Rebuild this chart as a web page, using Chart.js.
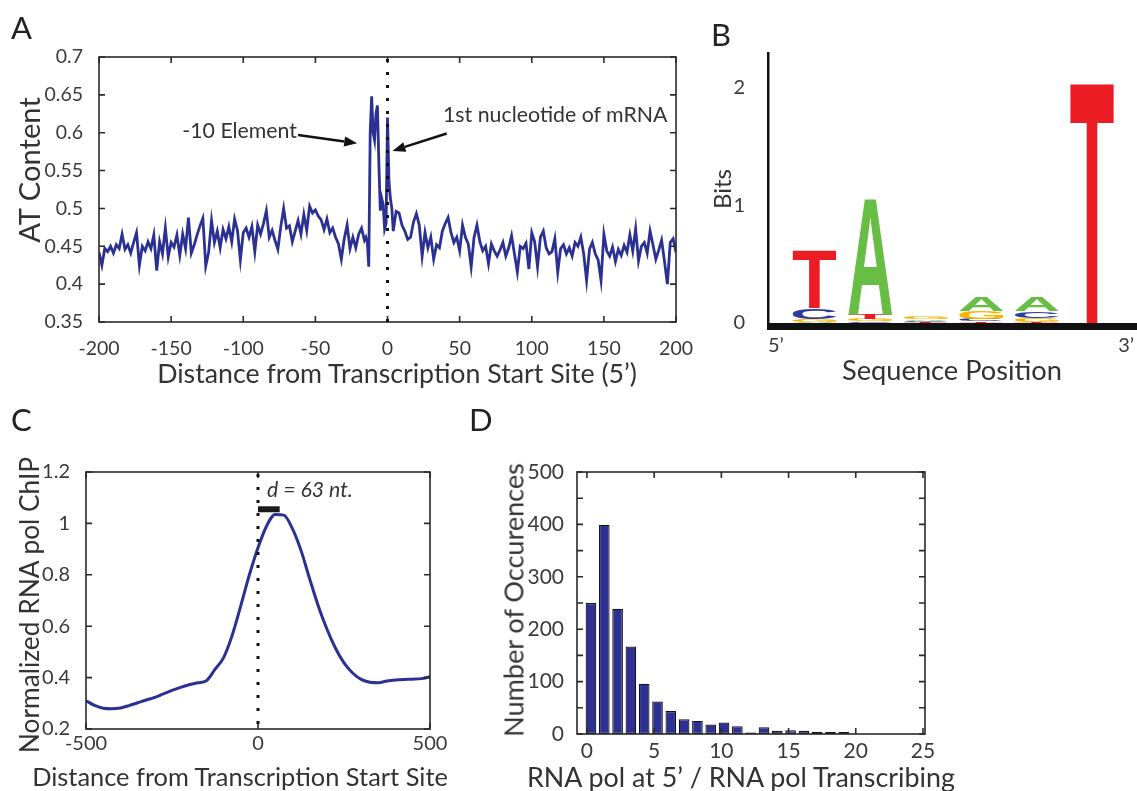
<!DOCTYPE html>
<html>
<head>
<meta charset="utf-8">
<script src="https://cdn.jsdelivr.net/npm/chart.js@4.4.1/dist/chart.umd.min.js"></script>
<style>
  html, body { margin: 0; padding: 0; background: #fff; overflow: hidden; }
  body { width: 1137px; height: 791px; position: relative; font-family: Lato, "Open Sans", sans-serif; color: #333; }
  canvas { position: absolute; }
  .t { position: absolute; white-space: nowrap; line-height: 1; }
  .c { transform: translate(-50%, -50%); }
  .v { transform: translate(-50%, -50%) rotate(-90deg); }
  .panel { font-size: 31px; color: #222; }
  .ax { font-size: 24px; color: #333; }
  .note { font-size: 20px; color: #333; }
</style>
</head>
<body>
<canvas id="chartA" width="700" height="395" style="left:0;top:0"></canvas>
<canvas id="chartB" width="437" height="395" style="left:700px;top:0"></canvas>
<canvas id="chartC" width="470" height="391" style="left:0;top:400px"></canvas>
<canvas id="chartD" width="480" height="391" style="left:480px;top:400px"></canvas>

<div class="t panel" style="left:11px;top:12px">A</div>
<div class="t panel" style="left:711px;top:19px">B</div>
<div class="t panel" style="left:11px;top:404px">C</div>
<div class="t panel" style="left:469px;top:404px">D</div>

<div class="t ax v" data-w="146" style="left:29px;top:170px">AT Content</div>
<div class="t ax c" data-w="480" style="left:397px;top:373px">Distance from Transcription Start Site (5’)</div>
<div class="t note" data-w="115" style="left:297px;top:131px;transform:translate(-100%,-50%)">-10 Element</div>
<div class="t note" data-w="225" style="left:443px;top:115px;transform:translateY(-50%)">1st nucleotide of mRNA</div>

<div class="t ax v" data-w="40" style="left:722px;top:189px">Bits</div>
<div class="t ax c" data-w="220" style="left:952px;top:370px">Sequence Position</div>

<div class="t ax v" data-w="296" style="left:29px;top:605px">Normalized RNA pol ChIP</div>
<div class="t ax c" data-w="416" style="left:240px;top:777px">Distance from Transcription Start Site</div>
<div class="t note" data-w="86" style="left:267px;top:490px;transform:translateY(-50%);font-style:italic">d = 63 nt.</div>

<div class="t ax v" data-w="274" style="left:513px;top:600px">Number of Occurences</div>
<div class="t ax c" data-w="428" style="left:741px;top:777px">RNA pol at 5’ / RNA pol Transcribing</div>

<script>
// ---------------- colours / fonts ----------------
const BLUE = '#2b3192';
const TXT = '#3a3a3a';
const FONT = 'Lato';

// ---------------- panel A : AT content around the TSS ----------------
const aPos = [
  -200,-198,-196,-194,-192,-190,-188,-186,-184,-182,-180,-178,-176,-174,-172,-170,-168,-166,-164,-162,
  -160,-158,-156,-154,-152,-150,-148,-146,-144,-142,-140,-138,-136,-134,-132,-130,-128,-126,-124,-122,
  -120,-118,-116,-114,-112,-110,-108,-106,-104,-102,-100,-98,-96,-94,-92,-90,-88,-86,-84,-82,
  -80,-78,-76,-74,-72,-70,-68,-66,-64,-62,-60,-58,-56,-54,-52,-50,-48,-46,-44,-42,
  -40,-38,-36,-34,-32,-30,-28,-26,-24,-22,-20,-18,-16,-15,-14,-13,-12,-11,-10,-9,
  -8,-7,-6,-5,-4,-3,-2,-1,0,1,2,3,4,5,6,8,10,12,14,16,
  18,20,22,24,26,28,30,32,34,36,38,40,42,44,46,48,50,52,54,56,
  58,60,62,64,66,68,70,72,74,76,78,80,82,84,86,88,90,92,94,96,
  98,100,102,104,106,108,110,112,114,116,118,120,122,124,126,128,130,132,134,136,
  138,140,142,144,146,148,150,152,154,156,158,160,162,164,166,168,170,172,174,176,
  178,180,182,184,186,188,190,192,194,196,198,200
];
const aVal = [
  0.442,0.425,0.447,0.443,0.450,0.441,0.452,0.447,0.466,0.446,0.452,0.441,0.455,0.468,0.425,0.450,0.444,0.456,0.447,0.465,
  0.418,0.456,0.440,0.474,0.436,0.455,0.449,0.465,0.438,0.466,0.447,0.488,0.441,0.452,0.465,0.477,0.487,0.424,0.442,0.484,
  0.455,0.470,0.448,0.472,0.460,0.476,0.456,0.486,0.471,0.432,0.468,0.474,0.462,0.476,0.443,0.478,0.466,0.480,0.497,0.462,
  0.471,0.458,0.446,0.476,0.500,0.474,0.477,0.456,0.470,0.484,0.466,0.492,0.471,0.503,0.494,0.498,0.490,0.485,0.472,0.486,
  0.468,0.474,0.462,0.453,0.433,0.460,0.478,0.447,0.462,0.448,0.466,0.474,0.458,0.462,0.455,0.423,0.600,0.648,0.600,0.590,
  0.625,0.636,0.560,0.497,0.513,0.505,0.473,0.480,0.620,0.536,0.513,0.500,0.470,0.484,0.496,0.494,0.478,0.470,0.459,0.462,
  0.482,0.493,0.478,0.437,0.468,0.448,0.462,0.433,0.452,0.448,0.470,0.480,0.488,0.468,0.455,0.462,0.444,0.478,0.462,0.453,
  0.423,0.462,0.478,0.456,0.444,0.450,0.427,0.453,0.444,0.437,0.445,0.455,0.437,0.448,0.464,0.440,0.416,0.450,0.447,0.454,
  0.420,0.468,0.456,0.423,0.462,0.470,0.448,0.440,0.443,0.460,0.416,0.447,0.452,0.440,0.448,0.437,0.455,0.450,0.462,0.440,
  0.405,0.446,0.455,0.440,0.432,0.405,0.466,0.444,0.437,0.449,0.430,0.446,0.438,0.451,0.442,0.465,0.444,0.473,0.431,0.450,
  0.455,0.441,0.470,0.452,0.433,0.445,0.458,0.430,0.400,0.455,0.460,0.442
];
const aTicksX = [-200, -150, -100, -50, 0, 50, 100, 150, 200];
const aTicksY = [0.35, 0.4, 0.45, 0.5, 0.55, 0.6, 0.65, 0.7];
// arrows: [fromX, fromY, toX, toY] in data units
const aArrow10 = [-62, 0.597, -21, 0.586];
const aArrowMrna = [41, 0.599, 3.4, 0.576];

// ---------------- panel B : sequence logo ----------------
const logoPos = [1, 2, 3, 4, 5, 6];
// stacked from bottom (smallest) to top (largest)
const logoLetters1 = ['A', 'C', 'T', 'T', 'T', 'A'];
const logoBits1    = [0.01, 0.015, 0.008, 0.015, 0.012, 0];
const logoLetters2 = ['G', 'G', 'C', 'C', 'G', 'C'];
const logoBits2    = [0.025, 0.02, 0.01, 0.02, 0.03, 0];
const logoLetters3 = ['C', 'T', 'A', 'G', 'C', 'G'];
const logoBits3    = [0.09, 0.045, 0.015, 0.065, 0.06, 0];
const logoLetters4 = ['T', 'A', 'G', 'A', 'A', 'T'];
const logoBits4    = [0.5, 0.99, 0.018, 0.12, 0.12, 2.06];
const logoTicksY = [0, 1, 2];
const logoColors = { A: '#68bd45', C: '#2e3a9c', G: '#f7b500', T: '#ec1c24' };

// ---------------- panel C : RNA pol ChIP profile ----------------
const cPos = [
  -500,-475,-450,-425,-400,-375,-350,-325,-300,-275,-250,-225,-200,-175,-150,-125,-100,-75,-50,-25,
  0,25,50,75,100,125,150,175,200,225,250,275,300,325,350,375,400,425,450,475,500
];
const cVal = [
  0.310,0.292,0.281,0.279,0.282,0.291,0.302,0.313,0.323,0.337,0.350,0.362,0.372,0.380,0.388,0.432,0.478,0.565,0.680,0.800,
  0.905,0.990,1.035,1.032,0.980,0.895,0.785,0.680,0.590,0.515,0.457,0.418,0.393,0.382,0.380,0.387,0.391,0.393,0.394,0.396,0.403
];
const cTicksX = [-500, 0, 500];
const cTicksY = [0.2, 0.4, 0.6, 0.8, 1, 1.2];
const cPeakBar = [0, 63, 1.055];   // from x, to x, at y

// ---------------- panel D : histogram ----------------
const dBins = [0.3, 1.29, 2.28, 3.27, 4.26, 5.25, 6.24, 7.23, 8.22, 9.21,
               10.2, 11.19, 12.18, 13.17, 14.16, 15.15, 16.14, 17.13, 18.12, 19.11];
const dCounts = [250, 399, 239, 167, 96, 62, 44, 28, 25, 18,
                 22, 15, 3, 13, 6, 7, 6, 4, 4, 4];
const dTicksX = [0, 5, 10, 15, 20, 25];
const dTicksY = [0, 100, 200, 300, 400, 500];
const dMinorY = [0, 50, 100, 150, 200, 250, 300, 350, 400, 450, 500];

// ---------------- helpers ----------------
// size the free text to the width it has in the figure
document.querySelectorAll('[data-w]').forEach(el => {
  const fs = parseFloat(getComputedStyle(el).fontSize);
  el.style.fontSize = (fs * Number(el.dataset.w) / el.offsetWidth).toFixed(2) + 'px';
});

function fixedSize(px) {
  return scale => { if (scale.isHorizontal()) scale.height = px; else scale.width = px; };
}
function useTicks(values) {
  return scale => { scale.ticks = values.map(v => ({ value: v })); };
}
function tickStyle(size, pad) {
  return { color: TXT, font: { family: FONT, size: size }, padding: pad, autoSkip: false, maxRotation: 0, callback: v => String(v) };
}
const baseOptions = {
  responsive: false,
  animation: false,
  devicePixelRatio: 1,
  events: []
};

// box with MATLAB style inward ticks
const framePlugin = {
  id: 'frame',
  afterDatasetsDraw(chart, args, opts) {
    const { ctx, chartArea: a, scales } = chart;
    const len = opts.len || 6;
    ctx.save();
    ctx.strokeStyle = '#2a2a2a';
    ctx.lineWidth = 1.6;
    ctx.beginPath();
    (opts.x || []).forEach(v => {
      const p = scales.x.getPixelForValue(v);
      ctx.moveTo(p, a.bottom); ctx.lineTo(p, a.bottom - len);
      ctx.moveTo(p, a.top); ctx.lineTo(p, a.top + len);
    });
    (opts.y || []).forEach(v => {
      const p = scales.y.getPixelForValue(v);
      ctx.moveTo(a.left, p); ctx.lineTo(a.left + len, p);
      ctx.moveTo(a.right, p); ctx.lineTo(a.right - len, p);
    });
    ctx.stroke();
    ctx.strokeRect(a.left, a.top, a.right - a.left, a.bottom - a.top);
    ctx.restore();
  }
};

function dottedZero(chart) {
  const { ctx, chartArea: a, scales } = chart;
  const x0 = scales.x.getPixelForValue(0);
  ctx.save();
  ctx.strokeStyle = '#111';
  ctx.lineWidth = 3;
  ctx.setLineDash([3, 10]);
  ctx.beginPath();
  ctx.moveTo(x0, a.top + 2);
  ctx.lineTo(x0, a.bottom);
  ctx.stroke();
  ctx.restore();
}

function drawArrow(chart, arr) {
  const { ctx, scales: { x, y } } = chart;
  const x1 = x.getPixelForValue(arr[0]), y1 = y.getPixelForValue(arr[1]);
  const x2 = x.getPixelForValue(arr[2]), y2 = y.getPixelForValue(arr[3]);
  const ang = Math.atan2(y2 - y1, x2 - x1);
  const hl = 13, hw = 5;
  ctx.save();
  ctx.strokeStyle = '#111';
  ctx.fillStyle = '#111';
  ctx.lineWidth = 2.5;
  ctx.beginPath();
  ctx.moveTo(x1, y1);
  ctx.lineTo(x2 - hl * Math.cos(ang), y2 - hl * Math.sin(ang));
  ctx.stroke();
  ctx.beginPath();
  ctx.moveTo(x2, y2);
  ctx.lineTo(x2 - hl * Math.cos(ang) + hw * Math.sin(ang), y2 - hl * Math.sin(ang) - hw * Math.cos(ang));
  ctx.lineTo(x2 - hl * Math.cos(ang) - hw * Math.sin(ang), y2 - hl * Math.sin(ang) + hw * Math.cos(ang));
  ctx.closePath();
  ctx.fill();
  ctx.restore();
}

// stretch one glyph into a box (used for the logo)
function drawGlyph(ctx, ch, color, left, top, w, h) {
  ctx.save();
  ctx.font = 'bold 100px "Liberation Sans"';
  const m = ctx.measureText(ch);
  const gw = m.actualBoundingBoxLeft + m.actualBoundingBoxRight;
  const gh = m.actualBoundingBoxAscent + m.actualBoundingBoxDescent;
  ctx.translate(left, top);
  ctx.scale(w / gw, h / gh);
  ctx.fillStyle = color;
  ctx.textAlign = 'left';
  ctx.textBaseline = 'alphabetic';
  ctx.fillText(ch, m.actualBoundingBoxLeft, m.actualBoundingBoxAscent);
  ctx.restore();
}

// ---------------- chart A ----------------
new Chart(document.getElementById('chartA'), {
  type: 'line',
  data: {
    datasets: [{
      data: aPos.map((x, i) => ({ x, y: aVal[i] })),
      borderColor: BLUE,
      borderWidth: 2.8,
      pointRadius: 0,
      tension: 0
    }]
  },
  options: {
    ...baseOptions,
    layout: { padding: { top: 57, right: 13, left: 0, bottom: 0 } },
    plugins: { legend: { display: false }, tooltip: { enabled: false }, frame: { x: aTicksX, y: aTicksY } },
    scales: {
      x: {
        type: 'linear', min: -200, max: 200,
        afterBuildTicks: useTicks(aTicksX), afterFit: fixedSize(73),
        grid: { display: false }, border: { display: false }, ticks: tickStyle(19.5, 7)
      },
      y: {
        min: 0.35, max: 0.7,
        afterBuildTicks: useTicks(aTicksY), afterFit: fixedSize(99),
        grid: { display: false }, border: { display: false }, ticks: tickStyle(19.5, 8)
      }
    }
  },
  plugins: [framePlugin, {
    id: 'aMarks',
    afterDatasetsDraw(chart) {
      dottedZero(chart);
      drawArrow(chart, aArrow10);
      drawArrow(chart, aArrowMrna);
    }
  }]
});

// ---------------- chart B ----------------
const logoLayers = [
  [logoLetters1, logoBits1], [logoLetters2, logoBits2],
  [logoLetters3, logoBits3], [logoLetters4, logoBits4]
];
new Chart(document.getElementById('chartB'), {
  type: 'bar',
  data: {
    datasets: logoLayers.map(([letters, bits]) => ({
      data: logoPos.map((x, i) => ({ x, y: bits[i] })),
      letters: letters,
      backgroundColor: 'rgba(0,0,0,0)',
      borderWidth: 0,
      barThickness: 44
    }))
  },
  options: {
    ...baseOptions,
    layout: { padding: { top: 52, right: 1, left: 0, bottom: 0 } },
    plugins: { legend: { display: false }, tooltip: { enabled: false } },
    scales: {
      x: {
        type: 'linear', min: 0.16, max: 6.75, stacked: true, offset: false,
        afterBuildTicks: scale => { scale.ticks = [{ value: scale.min }, { value: scale.max }]; },
        afterFit: fixedSize(72),
        grid: { display: false, offset: false }, border: { display: false },
        ticks: { ...tickStyle(20, 3), align: 'inner', callback: (v, i) => (i === 0 ? '5’' : '3’') }
      },
      y: {
        min: 0, max: 2.3, stacked: true,
        afterBuildTicks: useTicks(logoTicksY), afterFit: fixedSize(68),
        grid: { display: false }, border: { display: false }, ticks: tickStyle(20, 15)
      }
    }
  },
  plugins: [{
    id: 'logoDraw',
    afterDatasetsDraw(chart) {
      const { ctx, chartArea: a } = chart;
      chart.data.datasets.forEach((ds, di) => {
        chart.getDatasetMeta(di).data.forEach((el, i) => {
          const h = el.base - el.y;
          if (h < 0.6) return;
          const ch = ds.letters[i];
          drawGlyph(ctx, ch, logoColors[ch], el.x - el.width / 2, el.y, el.width, h);
        });
      });
      ctx.save();
      ctx.fillStyle = '#111';
      ctx.fillRect(a.left - 1, a.top, 2.5, a.bottom - a.top);
      ctx.fillRect(a.left - 1, a.bottom, a.right - a.left + 6, 7);
      ctx.restore();
    }
  }]
});

// ---------------- chart C ----------------
new Chart(document.getElementById('chartC'), {
  type: 'line',
  data: {
    datasets: [{
      data: cPos.map((x, i) => ({ x, y: cVal[i] })),
      borderColor: BLUE,
      borderWidth: 3,
      pointRadius: 0,
      tension: 0.4,
      cubicInterpolationMode: 'monotone'
    }]
  },
  options: {
    ...baseOptions,
    layout: { padding: { top: 72, right: 40, left: 0, bottom: 0 } },
    plugins: { legend: { display: false }, tooltip: { enabled: false }, frame: { x: cTicksX, y: cTicksY } },
    scales: {
      x: {
        type: 'linear', min: -500, max: 500,
        afterBuildTicks: useTicks(cTicksX), afterFit: fixedSize(62),
        grid: { display: false }, border: { display: false }, ticks: tickStyle(20, -5)
      },
      y: {
        min: 0.2, max: 1.2,
        afterBuildTicks: useTicks(cTicksY), afterFit: fixedSize(86),
        grid: { display: false }, border: { display: false }, ticks: tickStyle(20, 8)
      }
    }
  },
  plugins: [framePlugin, {
    id: 'cMarks',
    afterDatasetsDraw(chart) {
      dottedZero(chart);
      const { ctx, scales: { x, y } } = chart;
      ctx.save();
      ctx.strokeStyle = '#1a1a1a';
      ctx.lineWidth = 6;
      ctx.beginPath();
      ctx.moveTo(x.getPixelForValue(cPeakBar[0]), y.getPixelForValue(cPeakBar[2]));
      ctx.lineTo(x.getPixelForValue(cPeakBar[1]), y.getPixelForValue(cPeakBar[2]));
      ctx.stroke();
      ctx.restore();
    }
  }]
});

// ---------------- chart D ----------------
new Chart(document.getElementById('chartD'), {
  type: 'bar',
  data: {
    datasets: [{
      data: dBins.map((x, i) => ({ x, y: dCounts[i] })),
      backgroundColor: '#2e3192',
      borderColor: '#151515',
      borderWidth: 1.2,
      borderSkipped: false,
      barPercentage: 1,
      categoryPercentage: 0.8
    }]
  },
  options: {
    ...baseOptions,
    layout: { padding: { top: 72, right: 35, left: 0, bottom: 0 } },
    plugins: { legend: { display: false }, tooltip: { enabled: false }, frame: { x: dTicksX, y: dMinorY } },
    scales: {
      x: {
        type: 'linear', min: -0.74, max: 25.15, offset: false,
        afterBuildTicks: useTicks(dTicksX), afterFit: fixedSize(57),
        grid: { display: false, offset: false }, border: { display: false }, ticks: tickStyle(21, -3)
      },
      y: {
        min: 0, max: 500,
        afterBuildTicks: useTicks(dTicksY), afterFit: fixedSize(97),
        grid: { display: false }, border: { display: false }, ticks: tickStyle(21, 5)
      }
    }
  },
  plugins: [framePlugin]
});
</script>
</body>
</html>
